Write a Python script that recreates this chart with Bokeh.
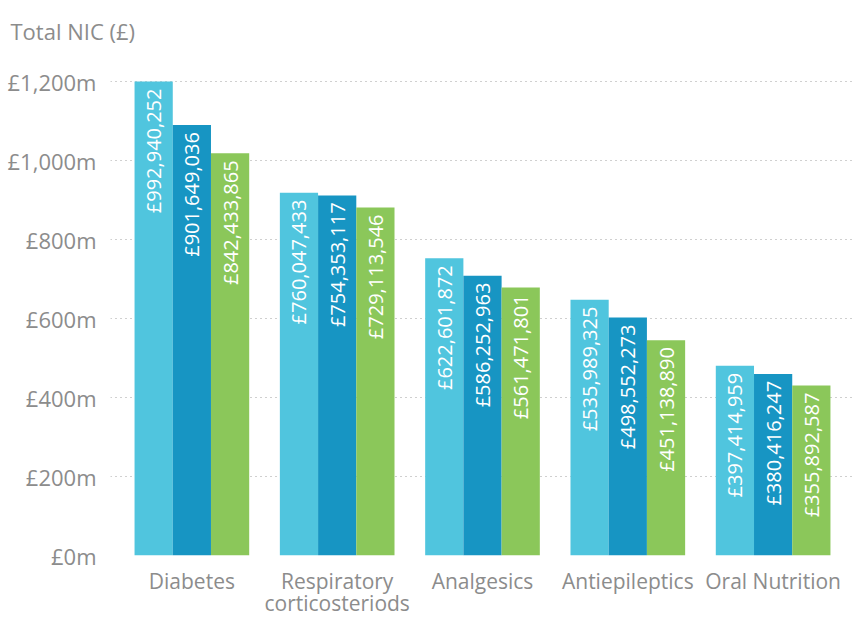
import numpy as np
from bokeh.plotting import figure
from bokeh.models import Range1d, FixedTicker, ColumnDataSource
from bokeh.core.properties import value
from bokeh.embed import file_html
from bokeh.resources import INLINE

# ---- data ----
categories = ["Diabetes", "Respiratory\ncorticosteriods", "Analgesics", "Antiepileptics", "Oral Nutrition"]
nic_first = [992940252, 760047433, 622601872, 535989325, 397414959]
nic_second = [901649036, 754353117, 586252963, 498552273, 380416247]
nic_third = [842433865, 729113546, 561471801, 451138890, 355892587]
tick_labels_m = [0, 200, 400, 600, 800, 1000, 1200]
# the reference axis is drawn so that the largest bar sits on the "£1,200m" line
axis_top_label_m = 1200
axis_top_value = 992940252

colors = ["#50c5de", "#1795c3", "#8bc75a"]
grey = "#8c8c8c"
FONT = "Open Sans"

scale = axis_top_value / (axis_top_label_m * 1e6)  # value units per label-£
tick_pos = [t * 1e6 * scale for t in tick_labels_m]

p = figure(width=854, height=619, output_backend="svg", toolbar_location=None,
           x_range=Range1d(-0.56, 4.56),
           y_range=Range1d(0, 1278.5e6 * scale),
           min_border_left=110, min_border_right=0, min_border_top=50, min_border_bottom=64,
           title="Total NIC (£)")
p.outline_line_color = None
p.background_fill_color = "white"
p.border_fill_color = "white"

p.title.text_font = FONT
p.title.text_font_size = "22px"
p.title.text_font_style = "normal"
p.title.text_color = grey
p.title.align = "left"
p.title.offset = -100
p.title.standoff = 10

n = len(categories)
xs = np.arange(n)
bw = 0.263
series = [nic_first, nic_second, nic_third]
for i, (vals, col) in enumerate(zip(series, colors)):
    off = (i - 1) * bw
    src = ColumnDataSource(dict(x=xs + off, top=vals, lab=[f"£{v:,}" for v in vals]))
    p.vbar(x="x", top="top", width=bw, source=src, fill_color=col, line_color=None)
    p.text(x="x", y="top", text="lab", source=src, angle=np.pi / 2,
           text_align="right", text_baseline="middle", y_offset=7,
           text_color="white", text_font=value(FONT), text_font_size="20px")

# y axis
p.yaxis.ticker = FixedTicker(ticks=tick_pos)
p.yaxis.major_label_overrides = {pos: f"£{t:,}m" for pos, t in zip(tick_pos, tick_labels_m)}
p.yaxis.axis_line_color = None
p.yaxis.major_tick_line_color = None
p.yaxis.minor_tick_line_color = None
p.yaxis.major_label_text_font = FONT
p.yaxis.major_label_text_font_size = "22px"
p.yaxis.major_label_text_color = grey
p.yaxis.major_label_standoff = 8

# x axis
p.xaxis.ticker = FixedTicker(ticks=list(xs))
p.xaxis.major_label_overrides = {int(i): c for i, c in zip(xs, categories)}
p.xaxis.axis_line_color = None
p.xaxis.major_tick_line_color = None
p.xaxis.minor_tick_line_color = None
p.xaxis.major_label_text_font = FONT
p.xaxis.major_label_text_font_size = "21px"
p.xaxis.major_label_text_line_height = 0.8
p.xaxis.major_label_text_color = grey
p.xaxis.major_label_standoff = 5

p.xgrid.grid_line_color = None
p.ygrid.ticker = FixedTicker(ticks=tick_pos)
p.ygrid.grid_line_color = "#a0a0a0"
p.ygrid.grid_line_dash = "1 4"
p.ygrid.grid_line_width = 1.2

open("out.html", "w").write(file_html(p, INLINE))
